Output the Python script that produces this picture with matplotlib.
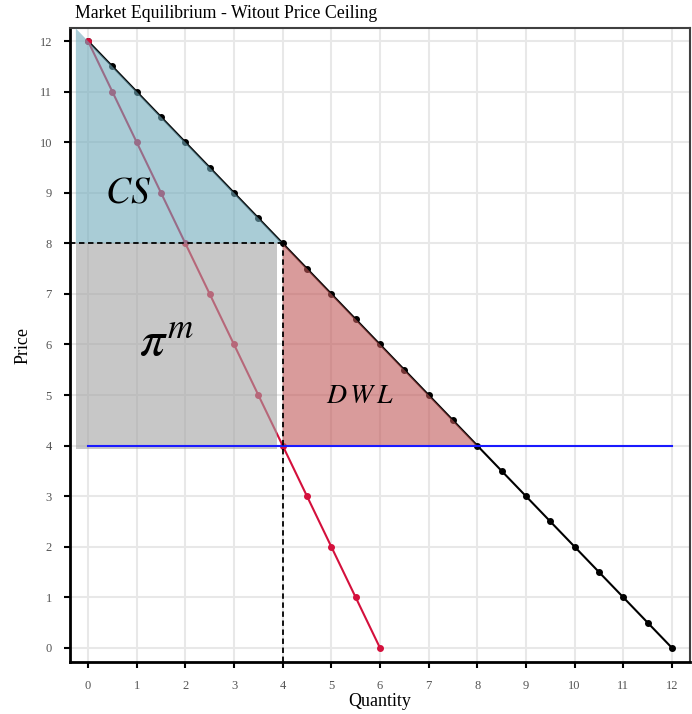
"""Monopoly market equilibrium without a price ceiling: CS, profit and DWL areas."""

import matplotlib
matplotlib.use("Agg")
import matplotlib.pyplot as plt

# demand curve points
demand_q = [0, 0.5, 1, 1.5, 2, 2.5, 3, 3.5, 4, 4.5, 5, 5.5, 6,
            6.5, 7, 7.5, 8, 8.5, 9, 9.5, 10, 10.5, 11, 11.5, 12]
demand_p = [12, 11.5, 11, 10.5, 10, 9.5, 9, 8.5, 8, 7.5, 7, 6.5, 6,
            5.5, 5, 4.5, 4, 3.5, 3, 2.5, 2, 1.5, 1, 0.5, 0]

# marginal revenue points
mr_q = [0, 0.5, 1, 1.5, 2, 2.5, 3, 3.5, 4, 4.5, 5, 5.5, 6]
mr_p = [12, 11, 10, 9, 8, 7, 6, 5, 4, 3, 2, 1, 0]

# marginal cost (flat)
mc_q = [0, 12]
mc_p = [4, 4]

q_m, p_m = 4, 8       # monopoly quantity / price
q_c, p_c = 8, 4       # competitive quantity / price (= MC)

ticks = list(range(0, 13))

XMIN, XMAX = -0.37, 12.37
YMIN, YMAX = -0.28, 12.26
SHADE_X0 = -0.25

plt.rcParams["mathtext.fontset"] = "stix"

fig = plt.figure(figsize=(6.92, 7.14), dpi=100)
ax = fig.add_axes([0.1012, 0.0728, 0.8958, 0.888])

ax.set_xlim(XMIN, XMAX)
ax.set_ylim(YMIN, YMAX)
ax.set_xticks(ticks)
ax.set_yticks(ticks)
ax.grid(True, color="#e8e8e8", lw=1.5, zorder=0)
ax.set_axisbelow(True)

# curves
ax.plot(demand_q, demand_p, color="black", lw=1.5, marker="o", ms=4, zorder=2)
ax.plot(mr_q, mr_p, color="#d4103c", lw=1.5, marker="o", ms=4, zorder=2)

# shaded areas on top of the curves
ax.fill([SHADE_X0, q_m, SHADE_X0], [p_m + q_m - SHADE_X0, p_m, p_m],
        color="#71abbc", alpha=0.6, lw=0, zorder=3)
ax.fill([SHADE_X0, q_m - 0.12, q_m - 0.12, SHADE_X0], [p_c - 0.06, p_c - 0.06, p_m, p_m],
        color="#a3a3a3", alpha=0.6, lw=0, zorder=3)
ax.fill([q_m, q_c, q_m], [p_m, p_c, p_c],
        color="#c15858", alpha=0.6, lw=0, zorder=3)

ax.plot(mc_q, mc_p, color="#1a1aff", lw=1.5, zorder=4)

# dashed guides
ax.plot([XMIN, q_m], [p_m, p_m], color="black", lw=1.3, ls=(0, (3, 2)), zorder=5)
ax.plot([q_m, q_m], [YMIN, p_m], color="black", lw=1.3, ls=(0, (3, 2)), zorder=5)

# area labels
ax.text(0.82, 9.0, r"$CS$", fontsize=27, ha="center", va="center", zorder=6)
ax.text(1.6, 6.05, r"$\pi^{m}$", fontsize=36, ha="center", va="center", zorder=6)
ax.text(5.59, 5.0, r"$D\,W\,L$", fontsize=20, ha="center", va="center", zorder=6)

for side in ("left", "bottom"):
    ax.spines[side].set_linewidth(2)
    ax.spines[side].set_color("black")
for side in ("top", "right"):
    ax.spines[side].set_linewidth(1.5)
    ax.spines[side].set_color("#404040")

ax.tick_params(length=4, width=1.5, color="black", labelsize=9,
               labelcolor="#555555")
ax.tick_params(axis="x", pad=9)
ax.tick_params(axis="y", pad=9)
for lab in ax.get_xticklabels() + ax.get_yticklabels():
    lab.set_family("Liberation Serif")

ax.set_xlabel("Quantity", family="Liberation Serif", fontsize=13, labelpad=1)
ax.set_ylabel("Price", family="Liberation Serif", fontsize=13, labelpad=6)
fig.text(75 / 692, 1 - 13 / 714, "Market Equilibrium - Witout Price Ceiling",
         family="Liberation Serif", fontsize=12.8, ha="left", va="center")

fig.savefig("out.png", dpi=100)
